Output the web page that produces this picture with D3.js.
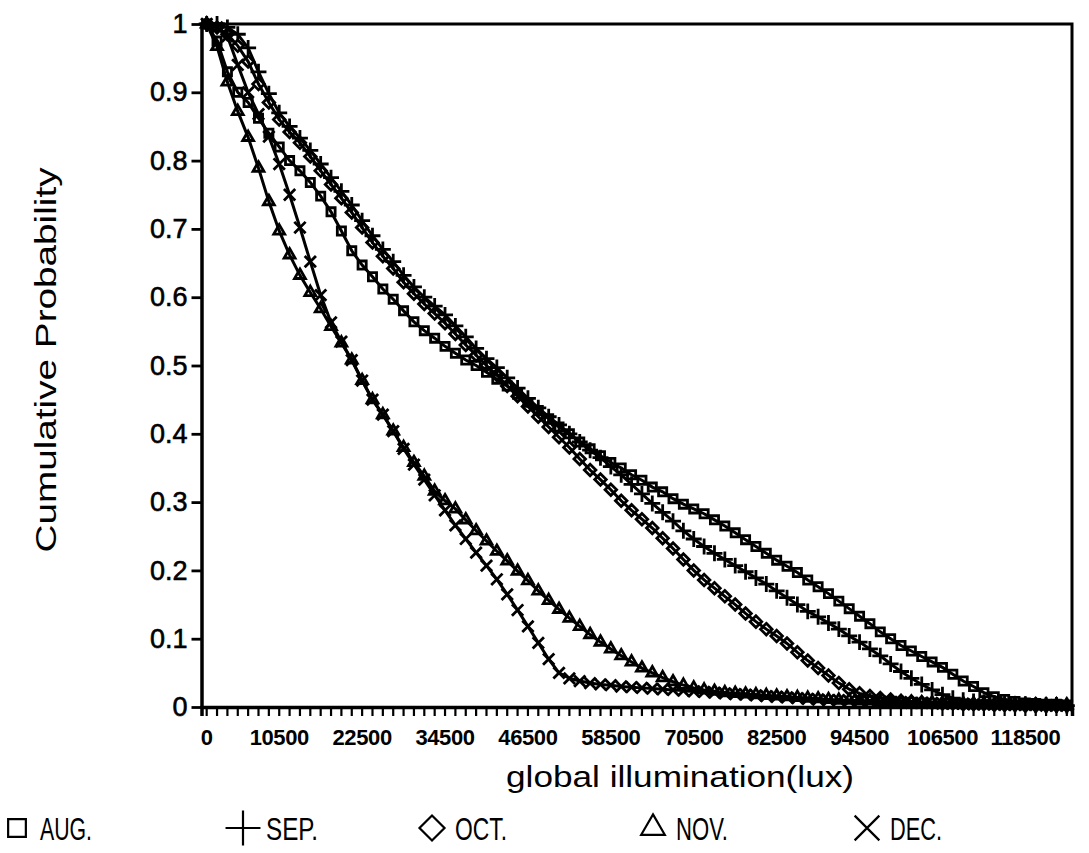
<!DOCTYPE html>
<html>
<head>
<meta charset="utf-8">
<script src="https://cdn.jsdelivr.net/npm/d3@7"></script>
<style>
body { margin: 0; background: #fff; }
svg { display: block; font-family: "Liberation Sans", Arial, sans-serif; }
</style>
</head>
<body>
<svg width="1089" height="853"></svg>
<script>
// **** Data ****

// illumination bins (lux), one category every 1500 lux
var categories = [0,1500,3000,4500,6000,7500,9000,10500,12000,13500,15000,16500,18000,19500,21000,22500,
    24000,25500,27000,28500,30000,31500,33000,34500,36000,37500,39000,40500,42000,43500,45000,46500,
    48000,49500,51000,52500,54000,55500,57000,58500,60000,61500,63000,64500,66000,67500,69000,70500,
    72000,73500,75000,76500,78000,79500,81000,82500,84000,85500,87000,88500,90000,91500,93000,94500,
    96000,97500,99000,100500,102000,103500,105000,106500,108000,109500,111000,112500,114000,115500,
    117000,118500,120000,121500,123000,124500];

var xTickLabels = ["0","10500","22500","34500","46500","58500","70500","82500","94500","106500","118500"];
var yTickValues = [0,0.1,0.2,0.3,0.4,0.5,0.6,0.7,0.8,0.9,1];
var yTickLabels = ["0","0.1","0.2","0.3","0.4","0.5","0.6","0.7","0.8","0.9","1"];

var aug = [1.0,0.975,0.93,0.9,0.885,0.862,0.84,0.82,0.8,0.785,
    0.768,0.748,0.725,0.697,0.668,0.647,0.63,0.612,0.597,0.58,
    0.564,0.551,0.54,0.528,0.518,0.508,0.5,0.49,0.48,0.47,
    0.458,0.446,0.434,0.422,0.41,0.4,0.388,0.378,0.368,0.358,
    0.35,0.34,0.332,0.322,0.315,0.305,0.297,0.29,0.283,0.274,
    0.265,0.255,0.245,0.235,0.225,0.215,0.206,0.197,0.186,0.176,
    0.166,0.155,0.144,0.133,0.122,0.11,0.1,0.09,0.082,0.074,
    0.066,0.058,0.048,0.038,0.03,0.021,0.015,0.011,0.008,0.006,
    0.005,0.004,0.004,0.003];

var sep = [1.0,1.0,0.995,0.985,0.965,0.93,0.898,0.87,0.85,0.833,
    0.815,0.795,0.775,0.755,0.735,0.712,0.69,0.67,0.652,0.632,
    0.615,0.6,0.587,0.574,0.558,0.542,0.525,0.51,0.497,0.482,
    0.467,0.452,0.438,0.425,0.413,0.4,0.388,0.376,0.365,0.352,
    0.34,0.326,0.312,0.298,0.285,0.272,0.258,0.246,0.235,0.225,
    0.216,0.207,0.198,0.189,0.18,0.17,0.16,0.15,0.14,0.132,
    0.123,0.114,0.104,0.095,0.085,0.075,0.063,0.052,0.042,0.033,
    0.025,0.018,0.013,0.01,0.008,0.007,0.006,0.005,0.004,0.004,
    0.003,0.003,0.003,0.002];

var oct = [1.0,0.995,0.985,0.968,0.945,0.912,0.885,0.86,0.842,0.826,
    0.806,0.785,0.765,0.745,0.724,0.702,0.68,0.66,0.642,0.622,
    0.605,0.59,0.576,0.562,0.546,0.53,0.515,0.5,0.486,0.47,
    0.455,0.44,0.425,0.41,0.395,0.38,0.363,0.347,0.333,0.318,
    0.302,0.288,0.275,0.262,0.247,0.232,0.216,0.2,0.186,0.174,
    0.162,0.15,0.137,0.125,0.114,0.104,0.093,0.08,0.068,0.057,
    0.046,0.035,0.026,0.02,0.016,0.013,0.011,0.009,0.008,0.007,
    0.006,0.005,0.005,0.004,0.004,0.004,0.003,0.003,0.003,0.002,
    0.002,0.002,0.002,0.002];

var nov = [1.0,0.967,0.915,0.872,0.834,0.789,0.74,0.697,0.662,0.632,
    0.607,0.583,0.557,0.533,0.508,0.478,0.45,0.428,0.404,0.38,
    0.358,0.338,0.316,0.302,0.29,0.274,0.258,0.243,0.228,0.214,
    0.199,0.185,0.17,0.156,0.143,0.13,0.118,0.106,0.095,0.085,
    0.075,0.066,0.057,0.05,0.043,0.037,0.032,0.028,0.025,0.023,
    0.021,0.02,0.019,0.018,0.017,0.016,0.015,0.014,0.013,0.012,
    0.011,0.01,0.01,0.009,0.009,0.008,0.008,0.007,0.007,0.006,
    0.006,0.006,0.005,0.005,0.005,0.004,0.004,0.004,0.004,0.003,
    0.003,0.003,0.003,0.003];

var dec = [1.0,0.995,0.982,0.94,0.9,0.868,0.835,0.795,0.75,0.702,
    0.652,0.603,0.563,0.535,0.508,0.478,0.45,0.428,0.404,0.378,
    0.355,0.333,0.31,0.288,0.266,0.246,0.226,0.207,0.187,0.165,
    0.142,0.118,0.094,0.07,0.05,0.042,0.038,0.035,0.033,0.032,
    0.03,0.029,0.028,0.027,0.026,0.025,0.024,0.023,0.022,0.021,
    0.02,0.019,0.018,0.017,0.016,0.015,0.014,0.013,0.012,0.011,
    0.01,0.01,0.009,0.009,0.008,0.008,0.007,0.007,0.006,0.006,
    0.006,0.005,0.005,0.005,0.004,0.004,0.004,0.003,0.003,0.003,
    0.003,0.002,0.002,0.002];

var seriesNames = ["AUG.", "SEP.", "OCT.", "NOV.", "DEC."];
var seriesValues = [aug, sep, oct, nov, dec];
var seriesSymbols = [d3.symbolSquare2, d3.symbolPlus, d3.symbolDiamond2, d3.symbolTriangle2, d3.symbolTimes];

// **** Scales ****

var svg = d3.select("svg");

var plotLeft = 201.5, plotRight = 1072, plotTop = 24, plotBottom = 707;

var xScale = d3.scaleBand()
    .domain(categories)
    .range([plotLeft, plotRight]);

var yScale = d3.scaleLinear()
    .domain([0, 1])
    .range([plotBottom, plotTop]);

function xPos(i) {
    return xScale(categories[i]) + xScale.bandwidth() / 2;
}

// **** Frame (top and right border) ****
svg.append("path")
    .attr("d", "M" + plotLeft + "," + plotTop + "H" + plotRight + "V" + plotBottom)
    .attr("fill", "none")
    .attr("stroke", "#000")
    .attr("stroke-width", 3);

// **** Axes ****
var xAxis = d3.axisBottom(xScale)
    .tickSizeOuter(0)
    .tickSize(9)
    .tickFormat(function(d) {
        var s = String(d);
        return xTickLabels.indexOf(s) >= 0 ? s : "";
    });

var gx = svg.append("g")
    .attr("class", "x axis")
    .attr("transform", "translate(0," + plotBottom + ")")
    .call(xAxis);
gx.select(".domain").attr("stroke-width", 3.5);
gx.selectAll(".tick line").attr("stroke-width", 2.2);
gx.selectAll(".tick text")
    .attr("y", 22)
    .attr("font-size", 22)
    .attr("font-weight", "bold")
    .attr("letter-spacing", -0.4)
    .attr("fill", "#000");

var yAxis = d3.axisLeft(yScale)
    .tickValues(yTickValues)
    .tickSize(10)
    .tickSizeOuter(0)
    .tickFormat(function(d, i) { return yTickLabels[i]; });

var gy = svg.append("g")
    .attr("class", "y axis")
    .attr("transform", "translate(" + plotLeft + ",0)")
    .call(yAxis);
gy.select(".domain").attr("stroke-width", 3.5);
gy.selectAll(".tick line").attr("stroke-width", 2.8);
gy.selectAll(".tick text")
    .attr("x", -14)
    .attr("font-size", 27)
    .attr("stroke", "#000")
    .attr("stroke-width", 0.6)
    .attr("fill", "#000");

// axis titles
svg.append("text")
    .attr("x", 680)
    .attr("y", 787)
    .attr("text-anchor", "middle")
    .attr("font-size", 29)
    .attr("textLength", 348)
    .attr("lengthAdjust", "spacingAndGlyphs")
    .text("global illumination(lux)");

svg.append("text")
    .attr("transform", "translate(56,360) rotate(-90)")
    .attr("text-anchor", "middle")
    .attr("font-size", 30)
    .attr("textLength", 385)
    .attr("lengthAdjust", "spacingAndGlyphs")
    .text("Cumulative Probability");

// **** Lines and markers ****
var line = d3.line()
    .x(function(d, i) { return xPos(i); })
    .y(function(d) { return yScale(d); });

seriesValues.forEach(function(vals, k) {
    svg.append("path")
        .datum(vals)
        .attr("d", line)
        .attr("fill", "none")
        .attr("stroke", "#000")
        .attr("stroke-width", 3);

    var sym = d3.symbol().type(seriesSymbols[k]).size(85);
    svg.append("g").selectAll("path")
        .data(vals)
        .enter()
        .append("path")
        .attr("transform", function(d, i) { return "translate(" + xPos(i) + "," + yScale(d) + ")"; })
        .attr("d", sym)
        .attr("fill", "none")
        .attr("stroke", "#000")
        .attr("stroke-width", 2.8);
});

// **** Legend ****
var legendX = [17, 243, 432, 653, 867];
var legend = svg.append("g").attr("transform", "translate(0,828)");
seriesNames.forEach(function(name, k) {
    legend.append("path")
        .attr("transform", "translate(" + legendX[k] + ",0)")
        .attr("d", d3.symbol().type(seriesSymbols[k]).size(400))
        .attr("fill", "none")
        .attr("stroke", "#000")
        .attr("stroke-width", 2.2);
    legend.append("text")
        .attr("x", legendX[k] + 23)
        .attr("y", 12)
        .attr("font-size", 31)
        .attr("textLength", 52)
        .attr("lengthAdjust", "spacingAndGlyphs")
        .text(name);
});
</script>
</body>
</html>
